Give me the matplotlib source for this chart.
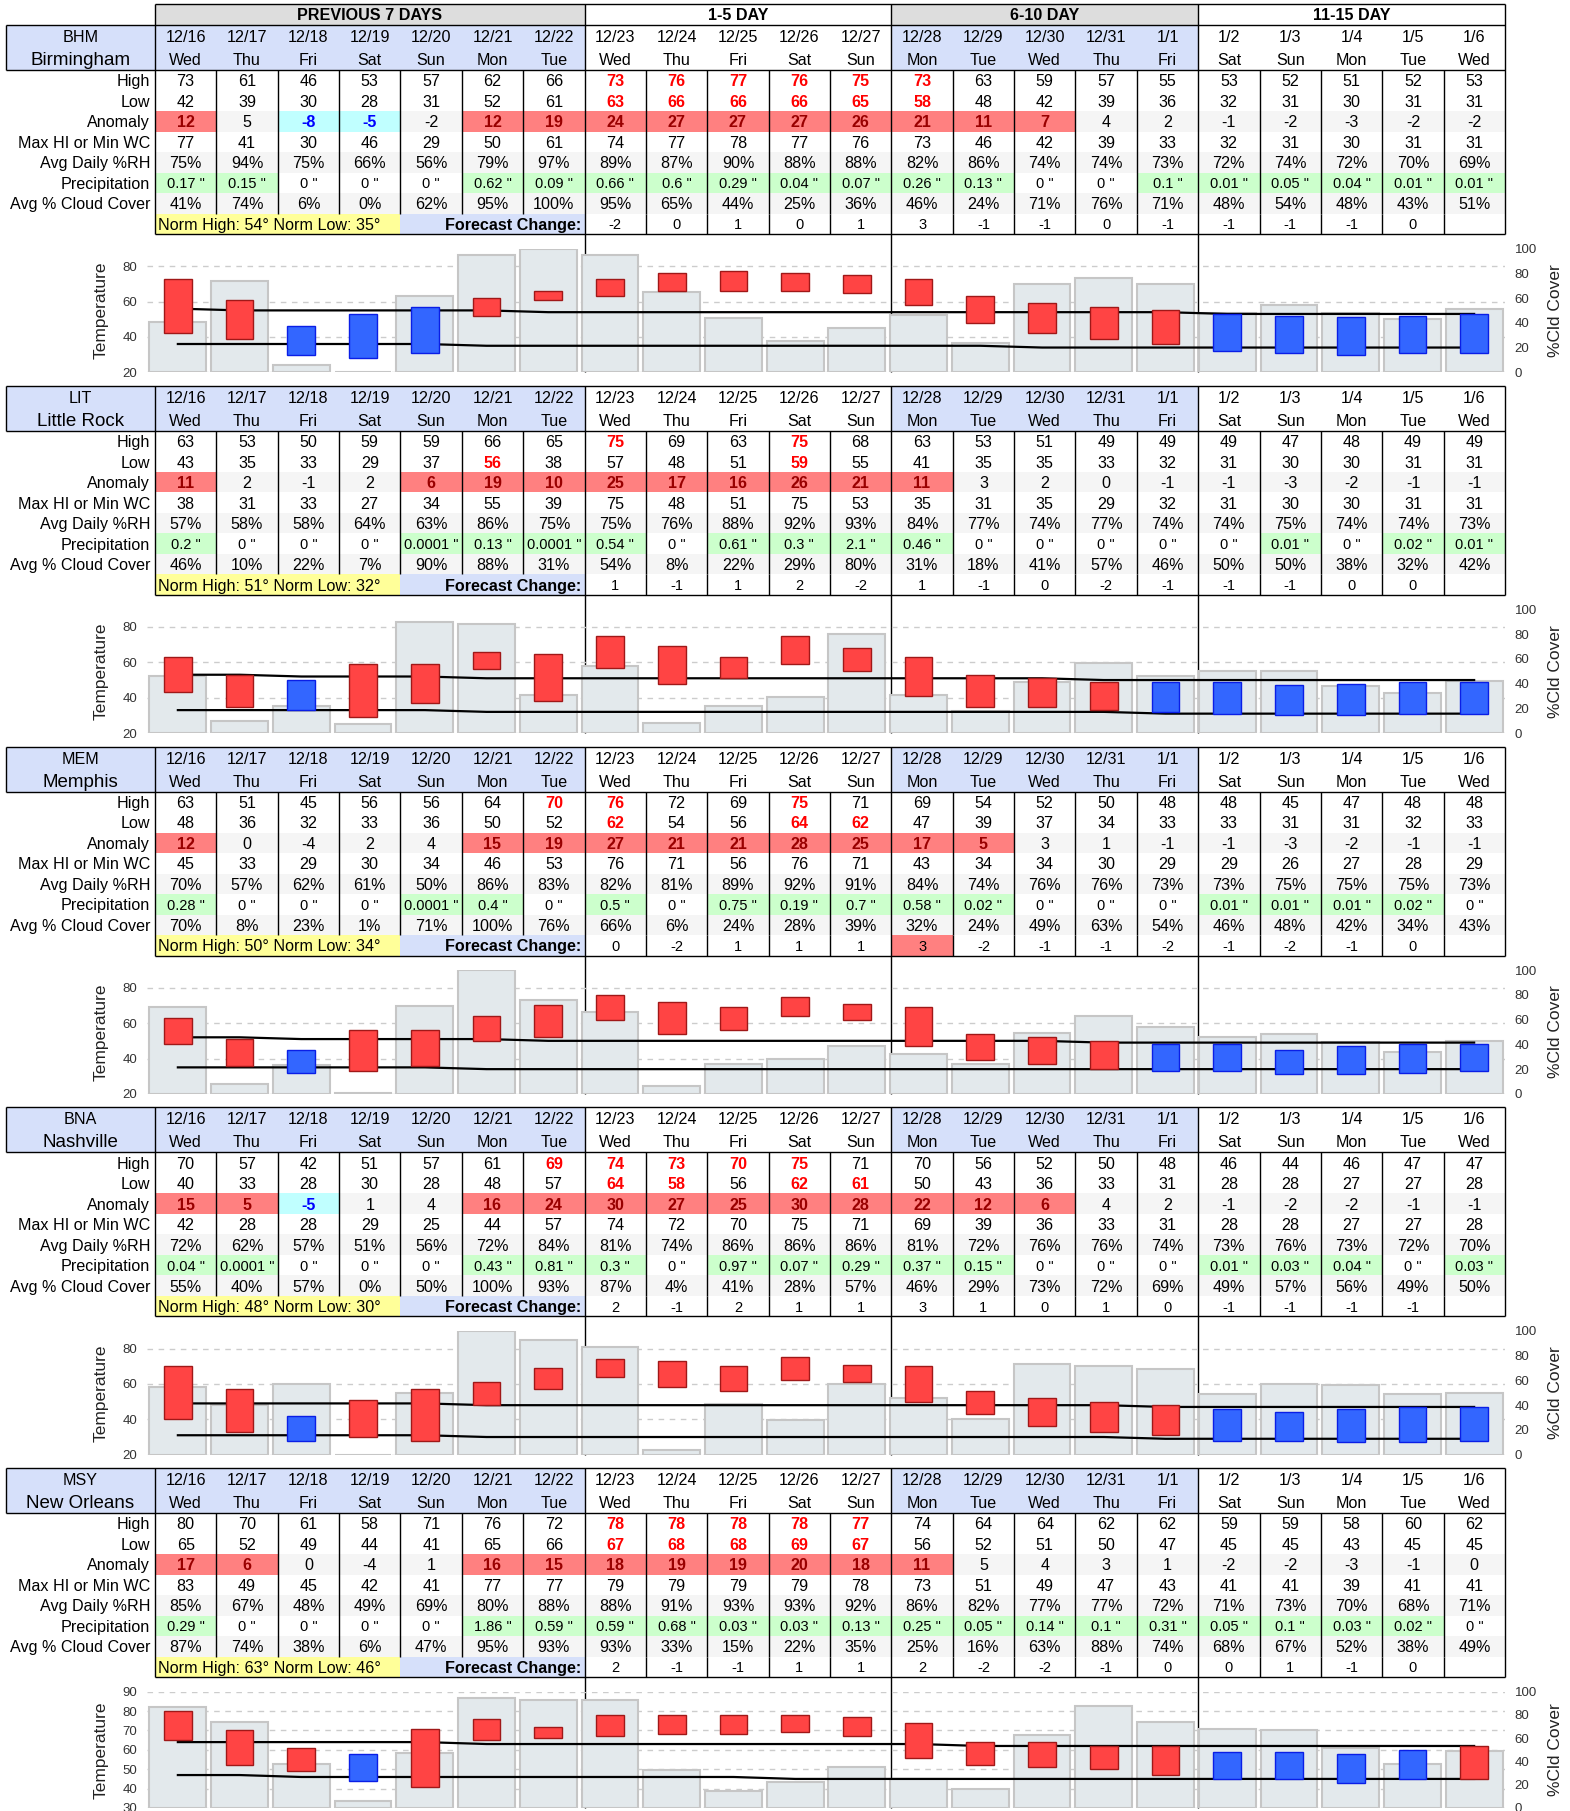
import matplotlib
matplotlib.use('Agg')
import matplotlib.pyplot as plt
import matplotlib.transforms as mtransforms
from matplotlib.patches import Rectangle

plt.rcParams['font.family'] = ['Liberation Sans', 'DejaVu Sans']

# ---------------- data ----------------
dates = ['12/16', '12/17', '12/18', '12/19', '12/20', '12/21', '12/22', '12/23', '12/24', '12/25', '12/26',
         '12/27', '12/28', '12/29', '12/30', '12/31', '1/1', '1/2', '1/3', '1/4', '1/5', '1/6']
weekdays = ['Wed', 'Thu', 'Fri', 'Sat', 'Sun', 'Mon', 'Tue', 'Wed', 'Thu', 'Fri', 'Sat', 'Sun', 'Mon', 'Tue',
            'Wed', 'Thu', 'Fri', 'Sat', 'Sun', 'Mon', 'Tue', 'Wed']
section_titles = ['PREVIOUS 7 DAYS', '1-5 DAY', '6-10 DAY', '11-15 DAY']
section_lengths = [7, 5, 5, 5]
row_labels = ['High', 'Low', 'Anomaly', 'Max HI or Min WC', 'Avg Daily %RH', 'Precipitation', 'Avg % Cloud Cover']

city_codes = ['BHM', 'LIT', 'MEM', 'BNA', 'MSY']
city_names = ['Birmingham', 'Little Rock', 'Memphis', 'Nashville', 'New Orleans']
norm_high_text = [54, 51, 50, 48, 63]
norm_low_text = [35, 32, 34, 30, 46]

# Birmingham
bhm_high = [73, 61, 46, 53, 57, 62, 66, 73, 76, 77, 76, 75, 73, 63, 59, 57, 55, 53, 52, 51, 52, 53]
bhm_low = [42, 39, 30, 28, 31, 52, 61, 63, 66, 66, 66, 65, 58, 48, 42, 39, 36, 32, 31, 30, 31, 31]
bhm_anom = [12, 5, -8, -5, -2, 12, 19, 24, 27, 27, 27, 26, 21, 11, 7, 4, 2, -1, -2, -3, -2, -2]
bhm_hiwc = [77, 41, 30, 46, 29, 50, 61, 74, 77, 78, 77, 76, 73, 46, 42, 39, 33, 32, 31, 30, 31, 31]
bhm_rh = [75, 94, 75, 66, 56, 79, 97, 89, 87, 90, 88, 88, 82, 86, 74, 74, 73, 72, 74, 72, 70, 69]
bhm_precip = [0.17, 0.15, 0, 0, 0, 0.62, 0.09, 0.66, 0.6, 0.29, 0.04, 0.07, 0.26, 0.13, 0, 0, 0.1,
              0.01, 0.05, 0.04, 0.01, 0.01]
bhm_cloud = [41, 74, 6, 0, 62, 95, 100, 95, 65, 44, 25, 36, 46, 24, 71, 76, 71, 48, 54, 48, 43, 51]
bhm_fc = [-2, 0, 1, 0, 1, 3, -1, -1, 0, -1, -1, -1, -1, 0, None]
bhm_norm_high = [56, 55, 55, 55, 55, 55, 54, 54, 54, 54, 54, 54, 54, 54, 54, 54, 54, 53, 53, 53, 53, 53]
bhm_norm_low = [36, 36, 36, 36, 36, 35, 35, 35, 35, 35, 35, 35, 35, 35, 34, 34, 34, 34, 34, 34, 34, 34]
bhm_high_rec = [7, 8, 9, 10, 11, 12]
bhm_low_rec = [7, 8, 9, 10, 11, 12]
bhm_anom_warm = [0, 5, 6, 7, 8, 9, 10, 11, 12, 13, 14]
bhm_anom_cold = [2, 3]
bhm_fc_flag = []

# Little Rock
lit_high = [63, 53, 50, 59, 59, 66, 65, 75, 69, 63, 75, 68, 63, 53, 51, 49, 49, 49, 47, 48, 49, 49]
lit_low = [43, 35, 33, 29, 37, 56, 38, 57, 48, 51, 59, 55, 41, 35, 35, 33, 32, 31, 30, 30, 31, 31]
lit_anom = [11, 2, -1, 2, 6, 19, 10, 25, 17, 16, 26, 21, 11, 3, 2, 0, -1, -1, -3, -2, -1, -1]
lit_hiwc = [38, 31, 33, 27, 34, 55, 39, 75, 48, 51, 75, 53, 35, 31, 35, 29, 32, 31, 30, 30, 31, 31]
lit_rh = [57, 58, 58, 64, 63, 86, 75, 75, 76, 88, 92, 93, 84, 77, 74, 77, 74, 74, 75, 74, 74, 73]
lit_precip = [0.2, 0, 0, 0, 0.0001, 0.13, 0.0001, 0.54, 0, 0.61, 0.3, 2.1, 0.46, 0, 0, 0, 0,
              0, 0.01, 0, 0.02, 0.01]
lit_cloud = [46, 10, 22, 7, 90, 88, 31, 54, 8, 22, 29, 80, 31, 18, 41, 57, 46, 50, 50, 38, 32, 42]
lit_fc = [1, -1, 1, 2, -2, 1, -1, 0, -2, -1, -1, -1, 0, 0, None]
lit_norm_high = [53, 53, 52, 52, 52, 51, 51, 51, 51, 51, 51, 51, 51, 51, 51, 50, 50, 50, 50, 50, 50, 50]
lit_norm_low = [33, 33, 33, 33, 33, 32, 32, 32, 32, 32, 32, 32, 32, 32, 32, 32, 31, 31, 31, 31, 31, 31]
lit_high_rec = [7, 10]
lit_low_rec = [5, 10]
lit_anom_warm = [0, 4, 5, 6, 7, 8, 9, 10, 11, 12]
lit_anom_cold = []
lit_fc_flag = []

# Memphis
mem_high = [63, 51, 45, 56, 56, 64, 70, 76, 72, 69, 75, 71, 69, 54, 52, 50, 48, 48, 45, 47, 48, 48]
mem_low = [48, 36, 32, 33, 36, 50, 52, 62, 54, 56, 64, 62, 47, 39, 37, 34, 33, 33, 31, 31, 32, 33]
mem_anom = [12, 0, -4, 2, 4, 15, 19, 27, 21, 21, 28, 25, 17, 5, 3, 1, -1, -1, -3, -2, -1, -1]
mem_hiwc = [45, 33, 29, 30, 34, 46, 53, 76, 71, 56, 76, 71, 43, 34, 34, 30, 29, 29, 26, 27, 28, 29]
mem_rh = [70, 57, 62, 61, 50, 86, 83, 82, 81, 89, 92, 91, 84, 74, 76, 76, 73, 73, 75, 75, 75, 73]
mem_precip = [0.28, 0, 0, 0, 0.0001, 0.4, 0, 0.5, 0, 0.75, 0.19, 0.7, 0.58, 0.02, 0, 0, 0,
              0.01, 0.01, 0.01, 0.02, 0]
mem_cloud = [70, 8, 23, 1, 71, 100, 76, 66, 6, 24, 28, 39, 32, 24, 49, 63, 54, 46, 48, 42, 34, 43]
mem_fc = [0, -2, 1, 1, 1, 3, -2, -1, -1, -2, -1, -2, -1, 0, None]
mem_norm_high = [52, 52, 51, 51, 51, 51, 50, 50, 50, 50, 50, 50, 50, 50, 50, 49, 49, 49, 49, 49, 49, 49]
mem_norm_low = [35, 35, 35, 35, 35, 34, 34, 34, 34, 34, 34, 34, 34, 34, 34, 34, 34, 34, 34, 34, 34, 34]
mem_high_rec = [6, 7, 10]
mem_low_rec = [7, 10, 11]
mem_anom_warm = [0, 5, 6, 7, 8, 9, 10, 11, 12, 13]
mem_anom_cold = []
mem_fc_flag = [12]

# Nashville
bna_high = [70, 57, 42, 51, 57, 61, 69, 74, 73, 70, 75, 71, 70, 56, 52, 50, 48, 46, 44, 46, 47, 47]
bna_low = [40, 33, 28, 30, 28, 48, 57, 64, 58, 56, 62, 61, 50, 43, 36, 33, 31, 28, 28, 27, 27, 28]
bna_anom = [15, 5, -5, 1, 4, 16, 24, 30, 27, 25, 30, 28, 22, 12, 6, 4, 2, -1, -2, -2, -1, -1]
bna_hiwc = [42, 28, 28, 29, 25, 44, 57, 74, 72, 70, 75, 71, 69, 39, 36, 33, 31, 28, 28, 27, 27, 28]
bna_rh = [72, 62, 57, 51, 56, 72, 84, 81, 74, 86, 86, 86, 81, 72, 76, 76, 74, 73, 76, 73, 72, 70]
bna_precip = [0.04, 0.0001, 0, 0, 0, 0.43, 0.81, 0.3, 0, 0.97, 0.07, 0.29, 0.37, 0.15, 0, 0, 0,
              0.01, 0.03, 0.04, 0, 0.03]
bna_cloud = [55, 40, 57, 0, 50, 100, 93, 87, 4, 41, 28, 57, 46, 29, 73, 72, 69, 49, 57, 56, 49, 50]
bna_fc = [2, -1, 2, 1, 1, 3, 1, 0, 1, 0, -1, -1, -1, -1, None]
bna_norm_high = [49, 49, 49, 49, 49, 48, 48, 48, 48, 48, 48, 48, 48, 48, 48, 48, 47, 47, 47, 47, 47, 47]
bna_norm_low = [31, 31, 31, 31, 31, 30, 30, 30, 30, 30, 30, 30, 30, 30, 30, 30, 29, 29, 29, 29, 29, 29]
bna_high_rec = [6, 7, 8, 9, 10]
bna_low_rec = [7, 8, 10, 11]
bna_anom_warm = [0, 1, 5, 6, 7, 8, 9, 10, 11, 12, 13, 14]
bna_anom_cold = [2]
bna_fc_flag = []

# New Orleans
msy_high = [80, 70, 61, 58, 71, 76, 72, 78, 78, 78, 78, 77, 74, 64, 64, 62, 62, 59, 59, 58, 60, 62]
msy_low = [65, 52, 49, 44, 41, 65, 66, 67, 68, 68, 69, 67, 56, 52, 51, 50, 47, 45, 45, 43, 45, 45]
msy_anom = [17, 6, 0, -4, 1, 16, 15, 18, 19, 19, 20, 18, 11, 5, 4, 3, 1, -2, -2, -3, -1, 0]
msy_hiwc = [83, 49, 45, 42, 41, 77, 77, 79, 79, 79, 79, 78, 73, 51, 49, 47, 43, 41, 41, 39, 41, 41]
msy_rh = [85, 67, 48, 49, 69, 80, 88, 88, 91, 93, 93, 92, 86, 82, 77, 77, 72, 71, 73, 70, 68, 71]
msy_precip = [0.29, 0, 0, 0, 0, 1.86, 0.59, 0.59, 0.68, 0.03, 0.03, 0.13, 0.25, 0.05, 0.14, 0.1, 0.31,
              0.05, 0.1, 0.03, 0.02, 0]
msy_cloud = [87, 74, 38, 6, 47, 95, 93, 93, 33, 15, 22, 35, 25, 16, 63, 88, 74, 68, 67, 52, 38, 49]
msy_fc = [2, -1, -1, 1, 1, 2, -2, -2, -1, 0, 0, 1, -1, 0, None]
msy_norm_high = [64, 64, 64, 64, 64, 63, 63, 63, 63, 63, 63, 63, 63, 62, 62, 62, 62, 62, 62, 62, 62, 62]
msy_norm_low = [47, 47, 46, 46, 46, 46, 46, 46, 46, 46, 45, 45, 45, 45, 45, 45, 45, 45, 45, 45, 45, 45]
msy_high_rec = [7, 8, 9, 10, 11]
msy_low_rec = [7, 8, 9, 10, 11]
msy_anom_warm = [0, 1, 5, 6, 7, 8, 9, 10, 11, 12]
msy_anom_cold = []
msy_fc_flag = []

temp_ticks = [[20, 40, 60, 80], [20, 40, 60, 80], [20, 40, 60, 80], [20, 40, 60, 80],
              [30, 40, 50, 60, 70, 80, 90]]
temp_limits = [(20, 90), (20, 90), (20, 90), (20, 90), (30, 90)]
cloud_ticks = [0, 20, 40, 60, 80, 100]

cities = []
for (hi, lo, an, wc, rh, pr, cl, fc, nh, nl, hr, lr, aw, ac, ff) in [
    (bhm_high, bhm_low, bhm_anom, bhm_hiwc, bhm_rh, bhm_precip, bhm_cloud, bhm_fc, bhm_norm_high,
     bhm_norm_low, bhm_high_rec, bhm_low_rec, bhm_anom_warm, bhm_anom_cold, bhm_fc_flag),
    (lit_high, lit_low, lit_anom, lit_hiwc, lit_rh, lit_precip, lit_cloud, lit_fc, lit_norm_high,
     lit_norm_low, lit_high_rec, lit_low_rec, lit_anom_warm, lit_anom_cold, lit_fc_flag),
    (mem_high, mem_low, mem_anom, mem_hiwc, mem_rh, mem_precip, mem_cloud, mem_fc, mem_norm_high,
     mem_norm_low, mem_high_rec, mem_low_rec, mem_anom_warm, mem_anom_cold, mem_fc_flag),
    (bna_high, bna_low, bna_anom, bna_hiwc, bna_rh, bna_precip, bna_cloud, bna_fc, bna_norm_high,
     bna_norm_low, bna_high_rec, bna_low_rec, bna_anom_warm, bna_anom_cold, bna_fc_flag),
    (msy_high, msy_low, msy_anom, msy_hiwc, msy_rh, msy_precip, msy_cloud, msy_fc, msy_norm_high,
     msy_norm_low, msy_high_rec, msy_low_rec, msy_anom_warm, msy_anom_cold, msy_fc_flag)]:
    cities.append(dict(high=hi, low=lo, anom=an, hiwc=wc, rh=rh, precip=pr, cloud=cl, fc=fc,
                       norm_high=nh, norm_low=nl, high_rec=hr, low_rec=lr, anom_warm=aw,
                       anom_cold=ac, fc_flag=ff))

# ---------------- styling / layout ----------------
W, H, DPI = 1570, 1811, 100
BLUE_BG = '#D6E0FA'
GREY_HDR = '#DDDDDD'
STRIPE = '#F5F5F5'
WARM_BG = '#FF8080'
COLD_BG = '#C0FFFF'
GREEN_BG = '#CCFFCC'
YELLOW_BG = '#FFFF99'
FS = 11.6
TY = 1.5   # small downward nudge of text inside cells

X0, X1 = 155.0, 1505.0
NC = len(dates)
CW = (X1 - X0) / NC
LX0 = 6.0
HDR = 45.0
RH_ = 20.5
PANEL_STEP = 360.8
FIRST_TOP = 25.0
CX0, CX1 = 147.0, 1505.0


def cx(k):
    return X0 + k * CW


fig = plt.figure(figsize=(W / DPI, H / DPI), dpi=DPI)
tab = fig.add_axes([0, 0, 1, 1])
tab.set_xlim(0, W)
tab.set_ylim(H, 0)
tab.axis('off')


def rect(x0, y0, x1, y1, color):
    tab.add_patch(Rectangle((x0, y0), x1 - x0, y1 - y0, facecolor=color, edgecolor='none', zorder=0))


def hl(y, x0, x1, lw=1.0):
    tab.plot([x0, x1], [y, y], color='black', lw=lw, zorder=2, solid_capstyle='butt')


def vl(x, y0, y1, lw=1.0):
    tab.plot([x, x], [y0, y1], color='black', lw=lw, zorder=2, solid_capstyle='butt')


sec_start = [0]
for n in section_lengths:
    sec_start.append(sec_start[-1] + n)
sec_x = [cx(k) for k in sec_start]

# section header row (first panel only)
SH_TOP = 4.0
for s, title in enumerate(section_titles):
    if s % 2 == 0:
        rect(sec_x[s], SH_TOP, sec_x[s + 1], FIRST_TOP, GREY_HDR)
    tab.text((sec_x[s] + sec_x[s + 1]) / 2, (SH_TOP + FIRST_TOP) / 2 + TY, title, ha='center', va='center',
             fontsize=FS, fontweight='bold')
hl(SH_TOP, X0, X1)

for p, c in enumerate(cities):
    top = FIRST_TOP + PANEL_STEP * p
    ytop_lines = SH_TOP if p == 0 else top
    data_top = top + HDR
    fc_top = data_top + 7 * RH_
    bottom = fc_top + RH_
    chart_top = top + 223.5
    chart_bot = min(top + 347.3, 1808.0)

    # header backgrounds
    rect(LX0, top, X0, data_top, BLUE_BG)
    for s in range(4):
        if s % 2 == 0:
            rect(sec_x[s], top, sec_x[s + 1], data_top, BLUE_BG)
    # stripes
    for r in (2, 4, 6):
        rect(X0, data_top + r * RH_, X1, data_top + (r + 1) * RH_, STRIPE)
    # anomaly highlights
    for k in c['anom_warm']:
        rect(cx(k), data_top + 2 * RH_, cx(k + 1), data_top + 3 * RH_, WARM_BG)
    for k in c['anom_cold']:
        rect(cx(k), data_top + 2 * RH_, cx(k + 1), data_top + 3 * RH_, COLD_BG)
    for k, v in enumerate(c['precip']):
        if v > 0:
            rect(cx(k), data_top + 5 * RH_, cx(k + 1), data_top + 6 * RH_, GREEN_BG)
    for k in c['fc_flag']:
        rect(cx(k), fc_top, cx(k + 1), bottom, WARM_BG)
    rect(cx(0), fc_top, cx(4), bottom, YELLOW_BG)
    rect(cx(4), fc_top, cx(7), bottom, BLUE_BG)

    # lines
    hl(top, LX0, X1)
    hl(data_top, LX0, X1)
    hl(bottom, X0, X1)
    vl(LX0, top, data_top)
    vl(X0, ytop_lines, bottom)
    vl(X1, ytop_lines, bottom)
    for xs in sec_x[1:-1]:
        vl(xs, ytop_lines, chart_bot)
    for k in range(1, NC):
        if k in sec_start:
            continue
        vl(cx(k), data_top, fc_top)
        if k > 7:
            vl(cx(k), fc_top, bottom)

    # header texts
    tab.text((LX0 + X0) / 2, top + 11 + TY, city_codes[p], ha='center', va='center', fontsize=FS)
    tab.text((LX0 + X0) / 2, top + 34 + TY, city_names[p], ha='center', va='center', fontsize=13.5)
    for k in range(NC):
        xc = cx(k) + CW / 2
        tab.text(xc, top + 11 + TY, dates[k], ha='center', va='center', fontsize=FS)
        tab.text(xc, top + 34 + TY, weekdays[k], ha='center', va='center', fontsize=FS)

    # row labels
    for r, lab in enumerate(row_labels):
        tab.text(X0 - 5, data_top + (r + 0.5) * RH_ + TY, lab, ha='right', va='center', fontsize=FS)

    # values
    for k in range(NC):
        xc = cx(k) + CW / 2

        def yc(r):
            return data_top + (r + 0.5) * RH_ + TY

        rec = k in c['high_rec']
        tab.text(xc, yc(0), str(c['high'][k]), ha='center', va='center', fontsize=FS,
                 color='#FF0000' if rec else 'black', fontweight='bold' if rec else 'normal')
        rec = k in c['low_rec']
        tab.text(xc, yc(1), str(c['low'][k]), ha='center', va='center', fontsize=FS,
                 color='#FF0000' if rec else 'black', fontweight='bold' if rec else 'normal')
        if k in c['anom_warm']:
            col, fw = '#990000', 'bold'
        elif k in c['anom_cold']:
            col, fw = '#0000FF', 'bold'
        else:
            col, fw = 'black', 'normal'
        tab.text(xc, yc(2), str(c['anom'][k]), ha='center', va='center', fontsize=FS, color=col, fontweight=fw)
        tab.text(xc, yc(3), str(c['hiwc'][k]), ha='center', va='center', fontsize=FS)
        tab.text(xc, yc(4), f"{c['rh'][k]}%", ha='center', va='center', fontsize=FS)
        tab.text(xc, yc(5), f"{c['precip'][k]:g} \"", ha='center', va='center', fontsize=10.5)
        tab.text(xc, yc(6), f"{c['cloud'][k]}%", ha='center', va='center', fontsize=FS)
        if k >= 7:
            v = c['fc'][k - 7]
            if v is not None:
                tab.text(xc, fc_top + RH_ / 2 + TY, str(v), ha='center', va='center', fontsize=10.5)
    tab.text(cx(0) + 3, fc_top + RH_ / 2 + TY, f"Norm High: {norm_high_text[p]}° Norm Low: {norm_low_text[p]}°",
             ha='left', va='center', fontsize=FS)
    tab.text(cx(7) - 3, fc_top + RH_ / 2 + TY, 'Forecast Change:', ha='right', va='center', fontsize=FS,
             fontweight='bold')

    # ---------------- chart ----------------
    ax_c = fig.add_axes([CX0 / W, 1 - chart_bot / H, (CX1 - CX0) / W, (chart_bot - chart_top) / H])
    ax_c.patch.set_visible(False)
    ax_t = ax_c.twinx()
    ax_t.patch.set_visible(False)
    xs = list(range(NC))

    ax_c.set_xlim(-0.5, NC - 0.5)
    ax_c.set_ylim(0, 100)
    ax_t.set_ylim(*temp_limits[p])

    trans = mtransforms.blended_transform_factory(ax_c.transAxes, ax_t.transData)
    for t in temp_ticks[p]:
        ax_c.plot([0, 1], [t, t], transform=trans, color='#CCCCCC', lw=1.0, ls=(0, (4, 4)), zorder=0)

    ax_c.bar(xs, c['cloud'], width=0.92, color='#E3E9EC', edgecolor='#C6C6C6', linewidth=1.5, zorder=1)

    ax_t.plot(xs, c['norm_high'], color='black', lw=1.6, zorder=1)
    ax_t.plot(xs, c['norm_low'], color='black', lw=1.6, zorder=1)
    heights = [h - l for h, l in zip(c['high'], c['low'])]
    face = ['#FF4444' if a >= 0 else '#3366FF' for a in c['anom']]
    edge = ['#A01818' if a >= 0 else '#0A1EE6' for a in c['anom']]
    ax_t.bar(xs, heights, bottom=c['low'], width=0.45, color=face, edgecolor=edge, linewidth=1.0, zorder=2)

    ax_c.yaxis.tick_right()
    ax_c.set_yticks(cloud_ticks)
    ax_c.set_xticks([])
    ax_c.tick_params(axis='y', length=0, pad=7, labelsize=9.5, labelcolor='#333333')
    ax_t.yaxis.tick_left()
    ax_t.set_yticks(temp_ticks[p])
    ax_t.tick_params(axis='y', length=0, pad=7, labelsize=9.5, labelcolor='#333333')
    for a in (ax_c, ax_t):
        for sp in a.spines.values():
            sp.set_visible(False)

    tab.text(101, (chart_top + chart_bot) / 2, 'Temperature', rotation=90, ha='center', va='center',
             fontsize=12.5, color='#222222')
    tab.text(1555, (chart_top + chart_bot) / 2, '%Cld Cover', rotation=90, ha='center', va='center',
             fontsize=12.5, color='#222222')

fig.savefig('out.png', dpi=DPI)
